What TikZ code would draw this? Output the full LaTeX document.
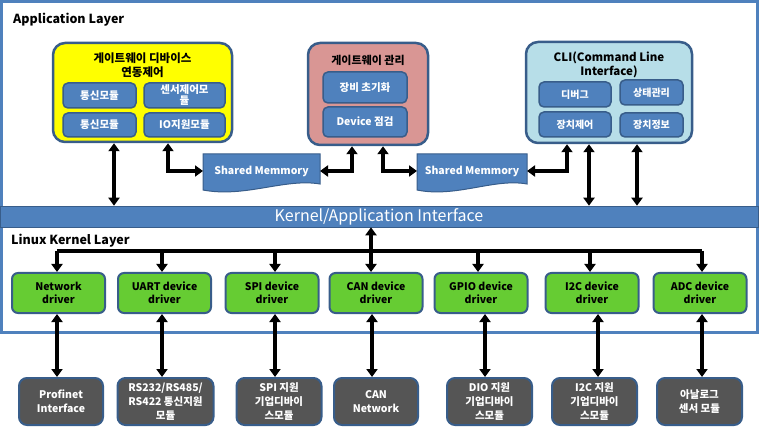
\documentclass[tikz,border=0pt]{standalone}
\usepackage{fontspec}
\setmainfont{Noto Sans CJK KR}
\usetikzlibrary{arrows.meta,calc}
\definecolor{frameblue}{HTML}{4F81BD}
\definecolor{edgeblue}{HTML}{385D8A}
\definecolor{ylw}{HTML}{FFFF00}
\definecolor{pinkbox}{HTML}{D99694}
\definecolor{cliblue}{HTML}{B7DEE8}
\definecolor{drvgreen}{HTML}{66CC33}
\definecolor{modgray}{HTML}{555555}
\tikzset{
  outerbox/.style={draw=edgeblue, line width=2.5pt, rounded corners=12pt, inner sep=0pt},
  innerbox/.style={draw=edgeblue, line width=1.5pt, fill=frameblue, rounded corners=5pt,
    text=white, font=\bfseries\fontsize{10.5}{11}\selectfont, align=center, inner sep=0pt},
  titletext/.style={font=\bfseries\fontsize{11.5}{14}\selectfont, align=center, inner sep=0pt},
  drvbox/.style={draw=edgeblue, line width=2pt, fill=drvgreen, rounded corners=6pt,
    minimum width=93, minimum height=40, inner sep=0pt, align=center,
    font=\bfseries\fontsize{10.5}{13}\selectfont},
  modbox/.style={draw=edgeblue, line width=2pt, fill=modgray, rounded corners=8pt,
    minimum height=47, inner sep=0pt, align=center, text=white,
    font=\bfseries\fontsize{10.5}{14}\selectfont},
  smshape/.style={draw=edgeblue, line width=1pt, fill=frameblue},
  smtext/.style={text=white, font=\bfseries\fontsize{10.5}{12}\selectfont, inner sep=0pt},
  dbl/.style={{Triangle[length=8pt,width=11pt]}-{Triangle[length=8pt,width=11pt]}, line width=3.2pt},
  arr/.style={-{Triangle[length=8pt,width=11pt]}, line width=3.2pt},
  busline/.style={line width=3.2pt},
  layertext/.style={font=\bfseries\fontsize{12.5}{14}\selectfont, inner sep=0pt, anchor=west}
}
\begin{document}
\begin{tikzpicture}[x=1pt,y=-1pt]
\useasboundingbox (0,0) rectangle (760,430);
% outer frame
\draw[frameblue, line width=3pt] (1.5,1.5) rectangle (757,332);
% layer labels
\node[layertext] (applab) at (13,20) {Application Layer};
\node[layertext] (kerlab) at (11,241) {Linux Kernel Layer};
% kernel/application bar
\node[fill=frameblue, draw=edgeblue, line width=0.6pt, minimum width=758, minimum height=21, inner sep=0pt,
  text=white, font=\fontsize{16}{18}\selectfont] (bar) at (379,216.5) {Kernel/Application Interface};

% gateway device box
\node[outerbox, fill=ylw, minimum width=179, minimum height=99] (gw) at (142.5,92.5) {};
\node[titletext] (gwt) at (142.5,65.5) {게이트웨이 디바이스\\연동제어};
\node[innerbox, minimum width=73, minimum height=25] (gw1) at (99.5,95.5) {통신모듈};
\node[innerbox, minimum width=81, minimum height=25] (gw2) at (184.5,95.5) {센서제어모\\듈};
\node[innerbox, minimum width=73, minimum height=24] (gw3) at (99.5,125) {통신모듈};
\node[innerbox, minimum width=81, minimum height=24] (gw4) at (184.5,125) {IO지원모듈};

% gateway management box
\node[outerbox, fill=pinkbox, minimum width=120, minimum height=102] (mg) at (368,94) {};
\node[titletext, font=\bfseries\fontsize{11}{13}\selectfont] (mgt) at (368,60) {게이트웨이 관리};
\node[innerbox, minimum width=84, minimum height=31] (mg1) at (365,87.5) {장비 초기화};
\node[innerbox, minimum width=84, minimum height=30] (mg2) at (365,122) {Device 점검};

% CLI box
\node[outerbox, fill=cliblue, minimum width=166, minimum height=101] (cli) at (609,92.5) {};
\node[titletext] (clit) at (609,65) {CLI(Command Line\\Interface)};
\node[innerbox, minimum width=72, minimum height=25, font=\bfseries\fontsize{10}{11}\selectfont] (cl1) at (575,94.5) {디버그};
\node[innerbox, minimum width=63, minimum height=25, font=\bfseries\fontsize{10}{11}\selectfont] (cl2) at (651.5,92.5) {상태관리};
\node[innerbox, minimum width=72, minimum height=25, font=\bfseries\fontsize{10}{11}\selectfont] (cl3) at (575,124.5) {장치제어};
\node[innerbox, minimum width=63, minimum height=24, font=\bfseries\fontsize{10}{11}\selectfont] (cl4) at (651.5,125) {장치정보};

% shared memories
\draw[smshape] (203,154) -- (320,154) -- (320,184) .. controls (285,178) and (245,198) .. (203,190) -- cycle;
\node[smtext] (sm1) at (261.5,171) {Shared Memmory};
\draw[smshape] (417,154) -- (527,154) -- (527,184) .. controls (494,178) and (456,198) .. (417,190) -- cycle;
\node[smtext] (sm2) at (472,171) {Shared Memmory};
\coordinate (s1w) at (203,171);
\coordinate (s1e) at (320,171);
\coordinate (s2w) at (417,171);
\coordinate (s2e) at (527,171);

% application connectors
\coordinate (g1) at ([xshift=-28.5pt]gw.south);
\coordinate (g2) at ([xshift=25.5pt]gw.south);
\coordinate (m1) at ([xshift=-16pt]mg.south);
\coordinate (m2) at ([xshift=15pt]mg.south);
\coordinate (c1) at ([xshift=-42pt]cli.south);
\coordinate (c2) at ([xshift=-20pt]cli.south);
\coordinate (c3) at ([xshift=28pt]cli.south);
\draw[dbl] (g1) -- (g1 |- bar.north);
\draw[dbl] (g2) |- (s1w);
\draw[dbl] (m1) |- (s1e);
\draw[dbl] (m2) |- (s2w);
\draw[dbl] (c1) |- (s2e);
\draw[dbl] (c2) -- (c2 |- bar.north);
\draw[dbl] (c3) -- (c3 |- bar.north);

% drivers
\node[drvbox] (net) at (58.5,293) {Network\\driver};
\node[drvbox] (uart) at (164.5,293) {UART device\\driver};
\node[drvbox] (spi) at (272,293) {SPI device\\driver};
\node[drvbox] (can) at (376,293) {CAN device\\driver};
\node[drvbox] (gpio) at (481,293) {GPIO device\\driver};
\node[drvbox] (i2c) at (592,293) {I2C device\\driver};
\node[drvbox] (adc) at (700,293) {ADC device\\driver};

% bus
\coordinate (busy) at (0,251);
\coordinate (b1) at ([xshift=-1.5pt]net.north);
\coordinate (b2) at ([xshift=-2.5pt]uart.north);
\coordinate (b3) at ([xshift=3pt]spi.north);
\coordinate (b4) at ([xshift=-5pt]can.north);
\coordinate (b5) at ([xshift=-3pt]gpio.north);
\coordinate (b6) at ([xshift=-2pt]i2c.north);
\coordinate (b7) at ([xshift=2pt]adc.north);
\draw[busline] (b1 |- busy) -- (b7 |- busy);
\draw[dbl] (b4 |- bar.south) -- (b4);
\foreach \b in {b1,b2,b3,b5,b6,b7} \draw[arr] (\b |- busy) -- (\b);

% modules
\node[modbox, minimum width=84] (prof) at (61,401.5) {Profinet\\Interface};
\node[modbox, minimum width=96] (rsm) at (165.5,401.5) {RS232/RS485/\\RS422 통신지원\\모듈};
\node[modbox, minimum width=85] (spim) at (279,401.5) {SPI 지원\\기업디바이\\스모듈};
\node[modbox, minimum width=84] (canm) at (376,401.5) {CAN\\Network};
\node[modbox, minimum width=85] (dio) at (489.5,401.5) {DIO 지원\\기업디바이\\스모듈};
\node[modbox, minimum width=85] (i2cm) at (594.5,401.5) {I2C 지원\\기업디바이\\스모듈};
\node[modbox, minimum width=85] (anal) at (699.5,401.5) {아날로그\\센서 모듈};

% driver-module connectors
\coordinate (d1) at ([xshift=-1.5pt]net.south);
\coordinate (d2) at ([xshift=-2.5pt]uart.south);
\coordinate (d3) at ([xshift=3pt]spi.south);
\coordinate (d4) at ([xshift=-4pt]can.south);
\coordinate (d5) at ([xshift=4pt]gpio.south);
\coordinate (d6) at ([xshift=6pt]i2c.south);
\coordinate (d7) at ([xshift=2pt]adc.south);
\draw[dbl] (d1) -- (d1 |- prof.north);
\draw[dbl] (d2) -- (d2 |- rsm.north);
\draw[dbl] (d3) -- (d3 |- spim.north);
\draw[dbl] (d4) -- (d4 |- canm.north);
\draw[dbl] (d5) -- (d5 |- dio.north);
\draw[dbl] (d6) -- (d6 |- i2cm.north);
\draw[dbl] (d7) -- (d7 |- anal.north);
\end{tikzpicture}
\end{document}
